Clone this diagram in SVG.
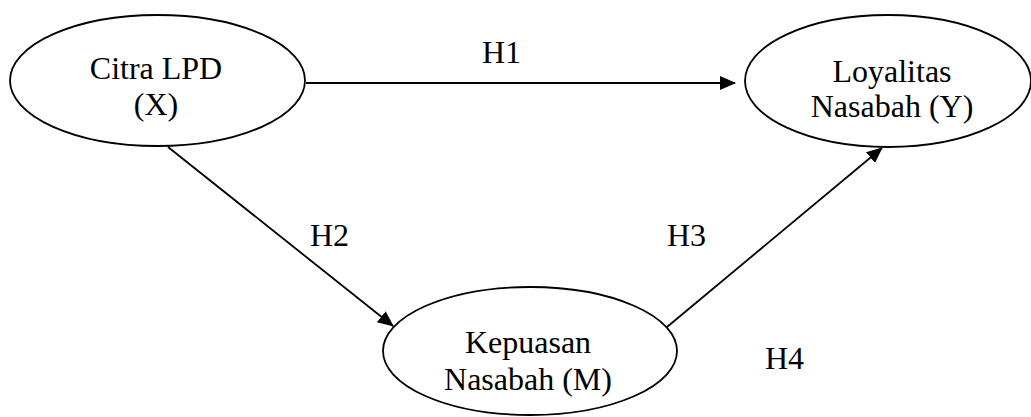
<svg xmlns="http://www.w3.org/2000/svg" width="1031" height="417" viewBox="0 0 1031 417">
<style>
.node ellipse{fill:#fff;stroke:#000;stroke-width:1.8}
text{font-family:"Liberation Serif","Times New Roman",serif;font-size:32px;fill:#000}
.c{text-anchor:middle}
.edge{stroke:#000;stroke-width:1.8;fill:none}
</style>
<defs>
<marker id="ah" markerWidth="16" markerHeight="14" refX="15" refY="7" orient="auto" markerUnits="userSpaceOnUse">
<path d="M0,0 L16,7 L0,14 Z" fill="#000"/>
</marker>
</defs>
<rect width="1031" height="417" fill="#fff"/>
<g id="connectors">
<line class="edge" x1="306" y1="83" x2="735" y2="83" marker-end="url(#ah)"/>
<line class="edge" x1="168" y1="147" x2="393" y2="326" marker-end="url(#ah)"/>
<line class="edge" x1="667" y1="327" x2="882" y2="148" marker-end="url(#ah)"/>
</g>
<g id="node-x" class="node">
<ellipse cx="157.5" cy="80.5" rx="147.5" ry="65.5"/>
<text class="c" x="156" y="79">Citra LPD</text>
<text class="c" x="156" y="115">(X)</text>
</g>
<g id="node-y" class="node">
<ellipse cx="888" cy="81" rx="143" ry="66"/>
<text class="c" x="892" y="82">Loyalitas</text>
<text class="c" x="892" y="117">Nasabah (Y)</text>
</g>
<g id="node-m" class="node">
<ellipse cx="530" cy="351" rx="147" ry="64"/>
<text class="c" x="528" y="353">Kepuasan</text>
<text class="c" x="528" y="390">Nasabah (M)</text>
</g>
<g id="labels">
<text x="482" y="63">H1</text>
<text x="310" y="246">H2</text>
<text x="667" y="246">H3</text>
<text x="765" y="369">H4</text>
</g>
</svg>
